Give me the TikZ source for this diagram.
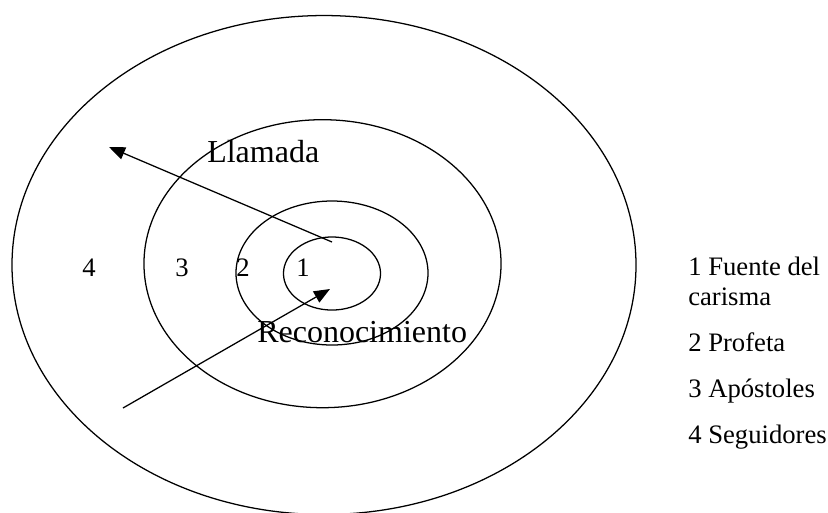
\documentclass[tikz,border=0pt]{standalone}
\usepackage{fontspec}
\setmainfont{Liberation Serif}
\usetikzlibrary{arrows.meta}
\begin{document}
\begin{tikzpicture}[x=0.75pt,y=-0.75pt,
  ring/.style={draw=black,line width=0.95pt},
  flow/.style={line width=0.95pt,-{Triangle[length=12pt,width=9.5pt]}},
  ringlabel/.style={anchor=base,inner sep=0pt,font=\fontsize{20}{24}\selectfont},
  callout/.style={anchor=base west,inner sep=0pt,font=\fontsize{24}{28}\selectfont},
  legend/.style={anchor=base west,inner sep=0pt,font=\fontsize{20}{24}\selectfont}]
\useasboundingbox (0,0) rectangle (828,512);

% concentric rings
\coordinate (c4) at (324,265);
\coordinate (c3) at (322.5,263.7);
\coordinate (c2) at (332,273);
\coordinate (c1) at (332,273.5);
\draw[ring] (c4) ellipse [x radius=234pt, y radius=187.1pt];
\draw[ring] (c3) ellipse [x radius=133.9pt, y radius=108pt];
\draw[ring] (c2) ellipse [x radius=72pt, y radius=54pt];
\draw[ring] (c1) ellipse [x radius=36.4pt, y radius=27.4pt];

% ring numbers
\node[ringlabel] (n4) at (89,276) {4};
\node[ringlabel] (n3) at (182,276) {3};
\node[ringlabel] (n2) at (243,276) {2};
\node[ringlabel] (n1) at (303,276) {1};

% arrows
\coordinate (callstart) at (332,242);
\coordinate (callend) at (109,147);
\draw[flow] (callstart) -- (callend);
\coordinate (recstart) at (123,408);
\coordinate (recend) at (330,289);
\draw[flow] (recstart) -- (recend);

% arrow captions
\node[callout] (llamada) at (207,162) {Llamada};
\node[callout] (recon) at (257,342) {Reconocimiento};

% legend
\node[legend] (l1) at (688,275) {1 Fuente del};
\node[legend] (l1b) at (688,305) {carisma};
\node[legend] (l2) at (688,351) {2 Profeta};
\node[legend] (l3) at (688,397) {3 Apóstoles};
\node[legend] (l4) at (688,443) {4 Seguidores};
\end{tikzpicture}
\end{document}
